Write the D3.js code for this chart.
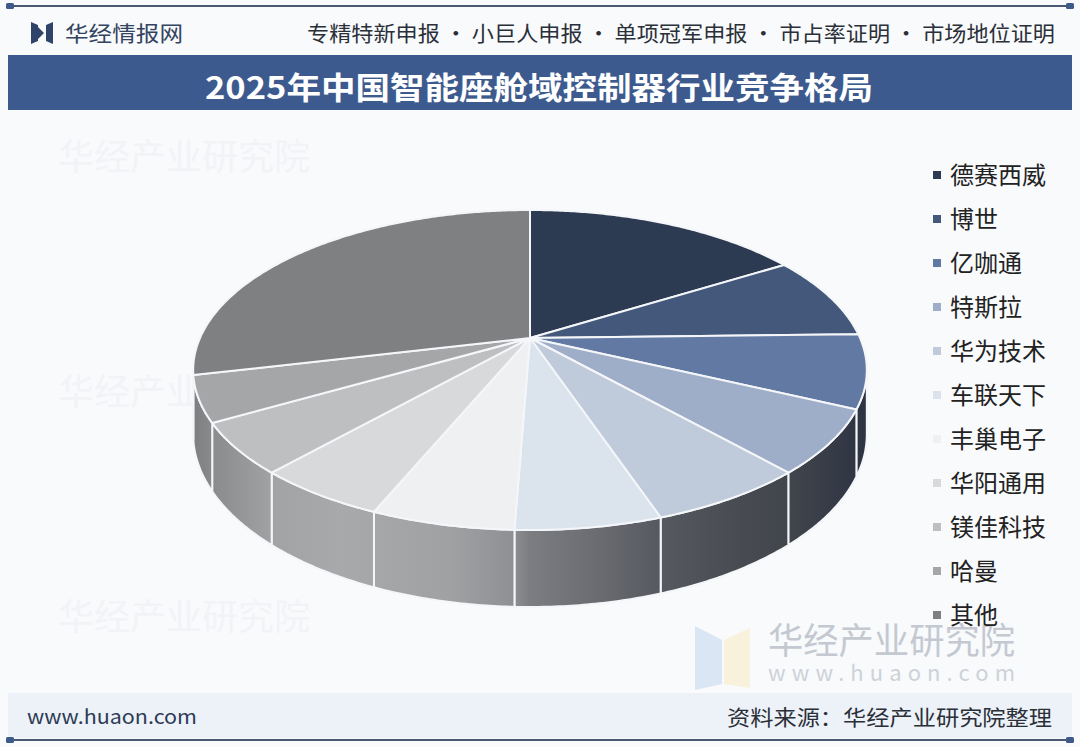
<!DOCTYPE html>
<html>
<head>
<meta charset="utf-8">
<script src="https://cdn.jsdelivr.net/npm/d3@7"></script>
<style>
  html, body { margin: 0; padding: 0; background: #f8fafc; }
  svg { display: block; font-family: "Noto Sans CJK SC", "Noto Sans", sans-serif; }
</style>
</head>
<body>
<svg id="chart" width="1080" height="747"></svg>
<script>
'use strict';

// Companies in slice order (clockwise from 12 o'clock).
var companies = ['德赛西威', '博世', '亿咖通', '特斯拉', '华为技术', '车联天下',
                 '丰巢电子', '华阳通用', '镁佳科技', '哈曼', '其他'];
// Market share (%).
var shares = [16.2, 8.4, 7.4, 6.4, 6.4, 5.8, 5.7, 5.3, 5.1, 4.6, 28.7];

var titleText = '2025年中国智能座舱域控制器行业竞争格局';
var sloganText = '专精特新申报 · 小巨人申报 · 单项冠军申报 · 市占率证明 · 市场地位证明';
var sourceText = '资料来源：华经产业研究院整理';

var sliceColors = ['#2c3a52', '#44587b', '#6279a3', '#9eadc8', '#bfcadb', '#dbe3ec',
                   '#eef0f2', '#d8d9db', '#bebfc1', '#a5a6a8', '#7f8082'];

var svg = d3.select('#chart');
var defs = svg.append('defs');

// ---- header ----
svg.append('rect').attr('x', 0).attr('y', 0).attr('width', 1080).attr('height', 747).attr('fill', '#f8fafc');

function rule(y) {
    svg.append('line')
        .attr('x1', 10).attr('x2', 1070).attr('y1', y).attr('y2', y)
        .attr('stroke', '#4a5872').attr('stroke-width', 2);
    [10, 1070].forEach(function(x) {
        svg.append('rect').attr('x', x - 4).attr('y', y - 3).attr('width', 8).attr('height', 6)
            .attr('rx', 1.5).attr('fill', '#3e5a88');
    });
}
rule(6);

// logo mark
svg.append('path')
    .attr('d', 'M31,22 L38,25 L38,41 L31,44 Z M53,22 L46,25 L46,41 L53,44 Z M38,27 L44,33 L38,39 Z')
    .attr('fill', '#2f4468');
svg.append('text')
    .attr('x', 65).attr('y', 41)
    .attr('font-size', 21).attr('fill', '#34435f')
    .attr('textLength', 118).attr('lengthAdjust', 'spacingAndGlyphs')
    .text('华经情报网');
svg.append('text')
    .attr('x', 307).attr('y', 41)
    .attr('font-size', 21).attr('fill', '#2b2f38')
    .attr('textLength', 748).attr('lengthAdjust', 'spacingAndGlyphs')
    .text(sloganText);

// title bar
svg.append('rect').attr('x', 8).attr('y', 55).attr('width', 1064).attr('height', 55).attr('fill', '#3d5a8e');
svg.append('text')
    .attr('x', 205).attr('y', 99)
    .attr('font-size', 31).attr('font-weight', 'bold').attr('fill', '#ffffff')
    .attr('textLength', 668).attr('lengthAdjust', 'spacingAndGlyphs')
    .text(titleText);

// ---- faint watermarks ----
[[58, 170], [58, 405], [58, 630]].forEach(function(p) {
    svg.append('text')
        .attr('x', p[0]).attr('y', p[1])
        .attr('font-size', 36).attr('fill', '#8a96aa').attr('opacity', 0.06)
        .text('华经产业研究院');
});
svg.append('path').attr('d', 'M695,626 L722,640 L722,684 L695,690 Z').attr('fill', '#dbe6f4');
svg.append('path').attr('d', 'M724,640 L750,628 L750,688 L724,684 Z').attr('fill', '#f8f1db');
svg.append('text')
    .attr('x', 768).attr('y', 654)
    .attr('font-size', 36).attr('fill', '#c4c9d1')
    .attr('textLength', 247).attr('lengthAdjust', 'spacingAndGlyphs')
    .text('华经产业研究院');
svg.append('text')
    .attr('x', 768).attr('y', 681)
    .attr('font-size', 22).attr('fill', '#cdd2d9')
    .attr('textLength', 247).attr('lengthAdjust', 'spacing')
    .text('www.huaon.com');

// ---- 3D pie ----
// Perspective mapping of the unit disc onto the page.
var cx = 530, cy = 338, rxA = 330, ryB = 153.6, persp = 0.2, depth = 61.6;

function project(theta, h) {
    var u = Math.sin(theta), v = Math.cos(theta);
    var s = 1 / (1 + persp * v);
    return [cx + rxA * u * s, cy - ryB * v * s + h * depth * s];
}

function arcPoints(a0, a1, h) {
    var n = Math.max(2, Math.ceil((a1 - a0) / 0.01));
    return d3.range(n + 1).map(function(i) { return project(a0 + (a1 - a0) * i / n, h); });
}

var pie = d3.pie().sort(null).value(function(d) { return d; });
var arcs = pie(shares);

var color = d3.scaleOrdinal().domain(companies).range(sliceColors);

// horizontal lighting for the rim
var sideGrad = defs.append('linearGradient')
    .attr('id', 'side-grad').attr('gradientUnits', 'userSpaceOnUse')
    .attr('x1', 193).attr('x2', 867).attr('y1', 0).attr('y2', 0);
[[193, '#7d7e80'], [215, '#8b8c8e'], [275, '#a2a3a5'], [340, '#a8a9ab'], [450, '#a0a1a3'],
 [512, '#8f9093'], [530, '#7b7d81'], [600, '#696b70'], [660, '#56595f'], [725, '#4a4d53'],
 [790, '#41454c'], [867, '#2c3342']].forEach(function(s) {
    sideGrad.append('stop').attr('offset', (s[0] - 193) / (867 - 193)).attr('stop-color', s[1]);
});

// visible part of the rim lies between the silhouette angles
var visLo = Math.acos(-persp), visHi = 2 * Math.PI - Math.acos(-persp);
var line = d3.line();

var sides = svg.append('g').attr('class', 'sides');
arcs.forEach(function(a) {
    var a0 = Math.max(a.startAngle, visLo), a1 = Math.min(a.endAngle, visHi);
    if (a1 <= a0) return;
    var pts = arcPoints(a0, a1, 0).concat(arcPoints(a0, a1, 1).reverse());
    sides.append('path')
        .attr('d', line(pts) + 'Z')
        .attr('fill', 'url(#side-grad)')
        .attr('stroke', '#f4f6f9').attr('stroke-width', 2).attr('stroke-linejoin', 'round');
});

var tops = svg.append('g').attr('class', 'tops');
arcs.forEach(function(a, i) {
    var pts = [[cx, cy]].concat(arcPoints(a.startAngle, a.endAngle, 0));
    tops.append('path')
        .attr('d', line(pts) + 'Z')
        .attr('fill', color(companies[i]))
        .attr('stroke', '#f4f6f9').attr('stroke-width', 2).attr('stroke-linejoin', 'round');
});

// ---- legend ----
var legend = svg.append('g').attr('class', 'legend');
var legendY = d3.scalePoint().domain(companies).range([175, 615]);
companies.forEach(function(name) {
    var y = legendY(name);
    legend.append('rect')
        .attr('x', 933).attr('y', y - 4).attr('width', 8).attr('height', 8)
        .attr('fill', color(name));
    legend.append('text')
        .attr('x', 950).attr('y', y + 9)
        .attr('font-size', 24).attr('fill', '#222222')
        .text(name);
});

// ---- footer ----
svg.append('rect').attr('x', 8).attr('y', 693).attr('width', 1064).attr('height', 45).attr('fill', '#edf2f9');
svg.append('text')
    .attr('x', 27).attr('y', 724)
    .attr('font-size', 20).attr('fill', '#2e3b55')
    .attr('textLength', 170).attr('lengthAdjust', 'spacingAndGlyphs')
    .text('www.huaon.com');
svg.append('text')
    .attr('x', 1052).attr('y', 725).attr('text-anchor', 'end')
    .attr('font-size', 21).attr('fill', '#2b2f38')
    .attr('textLength', 325).attr('lengthAdjust', 'spacingAndGlyphs')
    .text(sourceText);
rule(740);
</script>
</body>
</html>
